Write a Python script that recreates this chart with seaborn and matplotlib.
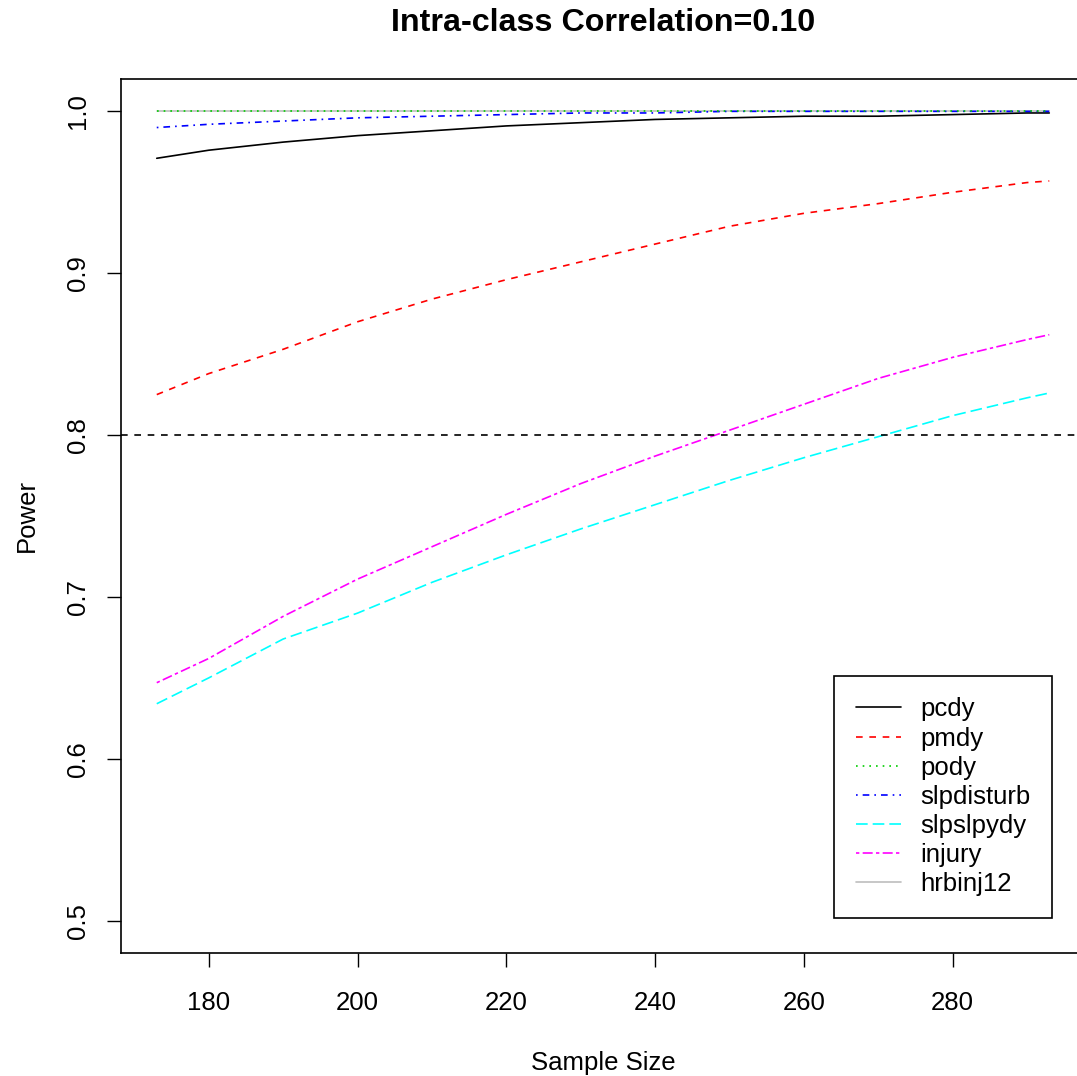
import matplotlib
matplotlib.use("Agg")
import matplotlib.pyplot as plt
import seaborn as sns
import pandas as pd

# sample sizes where the curves were read
sample_size = [173, 180, 190, 200, 210, 220, 230, 240, 250, 260, 270, 280, 290, 293]

pcdy = [0.971, 0.976, 0.981, 0.985, 0.988, 0.991, 0.993, 0.995, 0.996, 0.997, 0.997, 0.998, 0.999, 0.999]
pmdy = [0.825, 0.838, 0.853, 0.870, 0.884, 0.896, 0.907, 0.918, 0.929, 0.937, 0.943, 0.950, 0.956, 0.957]
pody = [1.000, 1.000, 1.000, 1.000, 1.000, 1.000, 1.000, 1.000, 1.000, 1.000, 1.000, 1.000, 1.000, 1.000]
slpdisturb = [0.990, 0.992, 0.994, 0.996, 0.997, 0.998, 0.999, 0.999, 1.000, 1.000, 1.000, 1.000, 1.000, 1.000]
slpslpydy = [0.634, 0.650, 0.674, 0.690, 0.709, 0.726, 0.742, 0.757, 0.772, 0.786, 0.799, 0.812, 0.823, 0.826]
injury = [0.647, 0.662, 0.688, 0.711, 0.731, 0.751, 0.770, 0.787, 0.803, 0.819, 0.835, 0.848, 0.859, 0.862]
hrbinj12 = [1.000, 1.000, 1.000, 1.000, 1.000, 1.000, 1.000, 1.000, 1.000, 1.000, 1.000, 1.000, 1.000, 1.000]

outcomes = ['pcdy', 'pmdy', 'pody', 'slpdisturb', 'slpslpydy', 'injury', 'hrbinj12']
series = [pcdy, pmdy, pody, slpdisturb, slpslpydy, injury, hrbinj12]
target_power = 0.8

# R base palette / lty 1..6
colors = ['black', '#FF0000', '#00CD00', '#0000FF', '#00FFFF', '#FF00FF', '#BEBEBE']
dashes = ['-', (0, (4, 4)), (0, (1, 3)), (0, (1, 3, 4, 3)), (0, (7, 3)), (0, (2, 2, 6, 2)), '-']

sns.set_style('white')
plt.rcParams['font.family'] = ['Liberation Sans', 'DejaVu Sans']
plt.rcParams['text.color'] = 'black'
plt.rcParams['axes.labelcolor'] = 'black'

fs = 18.5

df = pd.DataFrame({'n': sample_size})
for name, vals in zip(outcomes, series):
    df[name] = vals

fig = plt.figure(figsize=(10.77, 10.76), dpi=100)
ax = fig.add_axes([0.1124, 0.1143, 0.895, 0.8123])

# draw gray first so the green dotted line stays visible on top
order = [0, 1, 6, 3, 4, 5, 2]
for i in order:
    sns.lineplot(data=df, x='n', y=outcomes[i], ax=ax, color=colors[i],
                 linestyle=dashes[i], linewidth=1.2, label=outcomes[i])

ax.axhline(target_power, color='black', linestyle=(0, (4, 4)), linewidth=1.2)

ax.set_xlim(168.2, 297.8)
ax.set_ylim(0.48, 1.02)
ax.set_xticks([180, 200, 220, 240, 260, 280])
ax.set_yticks([0.5, 0.6, 0.7, 0.8, 0.9, 1.0])
ax.set_yticklabels(['0.5', '0.6', '0.7', '0.8', '0.9', '1.0'], rotation=90, va='center')
ax.tick_params(direction='out', length=10, width=1, labelsize=fs, colors='black',
               left=True, bottom=True)
ax.tick_params(axis='x', pad=17)
ax.tick_params(axis='y', pad=12)
for s in ax.spines.values():
    s.set_color('black')
    s.set_linewidth(1.2)

ax.set_xlabel('Sample Size', fontsize=fs, labelpad=26)
ax.set_ylabel('Power', fontsize=fs, labelpad=20)
fig.text(0.56, 0.979, 'Intra-class Correlation=0.10', ha='center', va='center',
         fontsize=23.2, fontweight='bold')

handles, labels = ax.get_legend_handles_labels()
lookup = dict(zip(labels, handles))
leg = ax.legend([lookup[o] for o in outcomes], outcomes, loc='lower right',
                bbox_to_anchor=(0.966, 0.040), fontsize=fs, frameon=True,
                fancybox=False, edgecolor='black', framealpha=1,
                handlelength=1.75, handletextpad=0.75, labelspacing=0.2,
                borderpad=0.85, borderaxespad=0)
leg.get_frame().set_linewidth(1.2)

fig.savefig('out.png', dpi=100)
